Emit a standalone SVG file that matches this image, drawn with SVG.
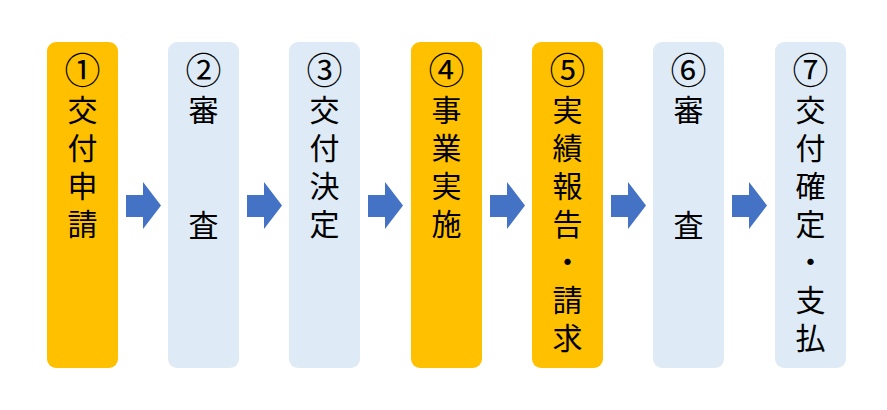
<svg xmlns="http://www.w3.org/2000/svg" width="887" height="410" viewBox="0 0 887 410">
<style>
.o{fill:#FFC000}.b{fill:#DEEBF7}
text{font-family:"Noto Sans CJK JP","Noto Sans",sans-serif;font-size:30px;fill:#000;text-anchor:middle}
text.c{font-size:36px}
.a{fill:#4472C4}
</style>
<rect width="887" height="410" fill="#fff"/>
<g id="n1"><rect class="o" x="47" y="42" width="71" height="326" rx="9"/><text class="c" x="82.5" y="84">①</text><text x="82.5" y="121">交</text><text x="82.5" y="159">付</text><text x="82.5" y="197">申</text><text x="82.5" y="235">請</text></g>
<g id="n2"><rect class="b" x="168" y="42" width="71" height="326" rx="9"/><text class="c" x="203.5" y="84">②</text><text x="203.5" y="121">審</text><text x="203.5" y="236">査</text></g>
<g id="n3"><rect class="b" x="289" y="42" width="71" height="326" rx="9"/><text class="c" x="324.5" y="84">③</text><text x="324.5" y="121">交</text><text x="324.5" y="159">付</text><text x="324.5" y="197">決</text><text x="324.5" y="235">定</text></g>
<g id="n4"><rect class="o" x="411" y="42" width="71" height="326" rx="9"/><text class="c" x="446.5" y="84">④</text><text x="446.5" y="121">事</text><text x="446.5" y="159">業</text><text x="446.5" y="197">実</text><text x="446.5" y="235">施</text></g>
<g id="n5"><rect class="o" x="532" y="42" width="71" height="326" rx="9"/><text class="c" x="567.5" y="84">⑤</text><text x="567.5" y="121">実</text><text x="567.5" y="159">績</text><text x="567.5" y="197">報</text><text x="567.5" y="235">告</text><text x="567.5" y="273">・</text><text x="567.5" y="311">請</text><text x="567.5" y="349">求</text></g>
<g id="n6"><rect class="b" x="653" y="42" width="71" height="326" rx="9"/><text class="c" x="688.5" y="84">⑥</text><text x="688.5" y="121">審</text><text x="688.5" y="236">査</text></g>
<g id="n7"><rect class="b" x="775" y="42" width="71" height="326" rx="9"/><text class="c" x="810.5" y="84">⑦</text><text x="810.5" y="121">交</text><text x="810.5" y="159">付</text><text x="810.5" y="197">確</text><text x="810.5" y="235">定</text><text x="810.5" y="273">・</text><text x="810.5" y="311">支</text><text x="810.5" y="349">払</text></g>
<g id="connectors">
<polygon class="a" points="126,195 143,195 143,182 161,205.5 143,229 143,217 126,217"/>
<polygon class="a" transform="translate(121,0)" points="126,195 143,195 143,182 161,205.5 143,229 143,217 126,217"/>
<polygon class="a" transform="translate(242,0)" points="126,195 143,195 143,182 161,205.5 143,229 143,217 126,217"/>
<polygon class="a" transform="translate(364,0)" points="126,195 143,195 143,182 161,205.5 143,229 143,217 126,217"/>
<polygon class="a" transform="translate(485,0)" points="126,195 143,195 143,182 161,205.5 143,229 143,217 126,217"/>
<polygon class="a" transform="translate(606,0)" points="126,195 143,195 143,182 161,205.5 143,229 143,217 126,217"/>
</g>
</svg>
